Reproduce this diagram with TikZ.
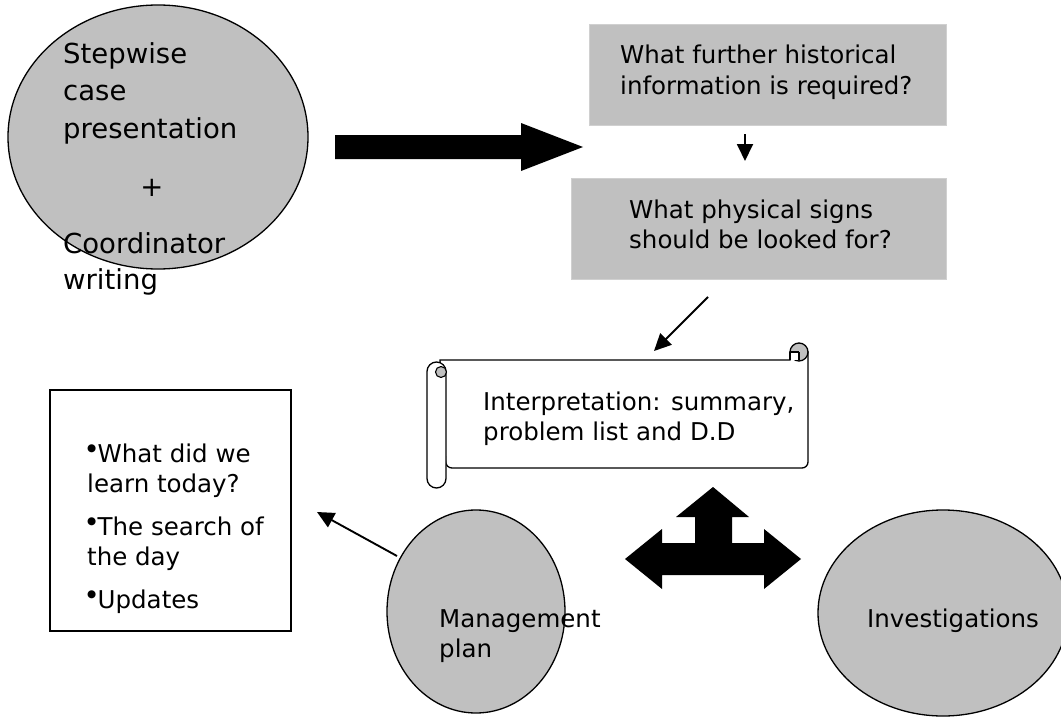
\documentclass[tikz,border=0pt]{standalone}
\usepackage{fontspec}
\setmainfont{DejaVu Sans}
\usetikzlibrary{arrows.meta,shapes.geometric}
\definecolor{silver}{HTML}{C0C0C0}
\definecolor{boxedge}{HTML}{D0D0D0}
\begin{document}
\begin{tikzpicture}[x=1pt,y=-1pt,
  oval/.style={ellipse, draw=black, line width=1.3pt, fill=silver, inner sep=0pt},
  qbox/.style={rectangle, draw=boxedge, fill=silver, line width=0.8pt, inner sep=0pt},
  listbox/.style={rectangle, draw=black, fill=white, line width=1.8pt, inner sep=0pt},
  txt/.style={font=\fontsize{24.5}{31}\selectfont, align=left, anchor=base west, inner sep=0pt},
  bigtxt/.style={font=\fontsize{27.5}{37}\selectfont, align=left, anchor=base west, inner sep=0pt},
  thinarrow/.style={line width=1.9pt, -{Triangle[length=17pt,width=16pt]}},
  blockarrow/.style={fill=black, draw=none},
  scrollline/.style={draw=black, line width=1.3pt}
]
\useasboundingbox (0,0) rectangle (1061,717);
\clip (0,0) rectangle (1061,717);

% ---- stepwise ellipse
\node[oval, minimum width=300pt, minimum height=264pt] (stepwise) at (158,137) {};
\node[bigtxt] (steptxt) at (63,138) {Stepwise\\case\\presentation};
\node[bigtxt, anchor=center] (plus) at (152,188) {+};
\node[bigtxt, font=\fontsize{27.5}{36}\selectfont] (coordtxt) at (63,289) {Coordinator\\writing};

% ---- big block arrow
\path[blockarrow] (335,135) -- (521,135) -- (521,123) -- (583,147) -- (521,171) -- (521,159) -- (335,159) -- cycle;

% ---- question boxes
\node[qbox, minimum width=357pt, minimum height=101pt] (hist) at (767.5,74.5) {};
\node[txt, font=\fontsize{24.5}{32}\selectfont] (histtxt) at (620,95) {What further historical\\information is required?};
\node[qbox, minimum width=375pt, minimum height=101pt] (phys) at (758.5,228.5) {};
\node[txt, font=\fontsize{24.5}{30}\selectfont] (phystxt) at (629,248) {What physical signs\\should be looked for?};

\coordinate (d1) at (745,134);
\coordinate (d2) at (745,161);
\draw[thinarrow] (d1) -- (d2);

\coordinate (g1) at (708,297);
\coordinate (g2) at (654,351);
\draw[thinarrow] (g1) -- (g2);

% ---- scroll
\path[scrollline, fill=white] (440,360) -- (790,360) -- (790,352) -- (808,352)
   [rounded corners=6pt] -- (808,468) -- (446,468) [sharp corners] -- cycle;
\draw[line width=1.3pt, fill=silver] (799,352) circle (9pt);
\fill[white] (790.6,352) rectangle (799,360);
\draw[line width=1.3pt] (790,352) -- (790,360) (799,352) -- (799,360) (790,352) -- (799,352);
\draw[line width=1.3pt, fill=white, rounded corners=9.5pt] (427,362) rectangle (446,488);
\draw[line width=1.1pt, fill=silver] (441,372) circle (5.5pt);
\node[txt, font=\fontsize{24.5}{30}\selectfont] (interp) at (483,440) {Interpretation: summary,\\problem list and D.D};

% ---- three-way block arrow
\path[blockarrow] (713,487) -- (749,517) -- (732,517) -- (732,543) -- (764,543) -- (764,529)
  -- (801,559) -- (764,589) -- (764,575) -- (662,575) -- (662,589) -- (625,559) -- (662,529)
  -- (662,543) -- (695,543) -- (695,517) -- (676,517) -- cycle;

% ---- list box
\node[listbox, minimum width=241pt, minimum height=241pt] (list) at (170.5,510.5) {};
\newcommand{\blt}{\makebox[10.5pt][l]{\raisebox{11pt}{\fontsize{10.5}{10.5}\selectfont ●}}}
\node[txt, font=\fontsize{24.5}{30}\selectfont] (listtxt) at (87,608)
  {\blt What did we\\learn today?\\[13pt]\blt The search of\\the day\\[13pt]\blt Updates};

% ---- bottom ellipses
\node[oval, minimum width=178pt, minimum height=203pt] (mgmt) at (476,611.5) {};
\node[txt, font=\fontsize{24.5}{30}\selectfont] (mgmttxt) at (439,657) {Management\\plan};
\node[oval, minimum width=250pt, minimum height=206pt] (inv) at (943,613) {};
\node[txt] (invtxt) at (867,627) {Investigations};

\coordinate (m1) at (397,556);
\coordinate (m2) at (317,512);
\draw[thinarrow] (m1) -- (m2);
\end{tikzpicture}
\end{document}
